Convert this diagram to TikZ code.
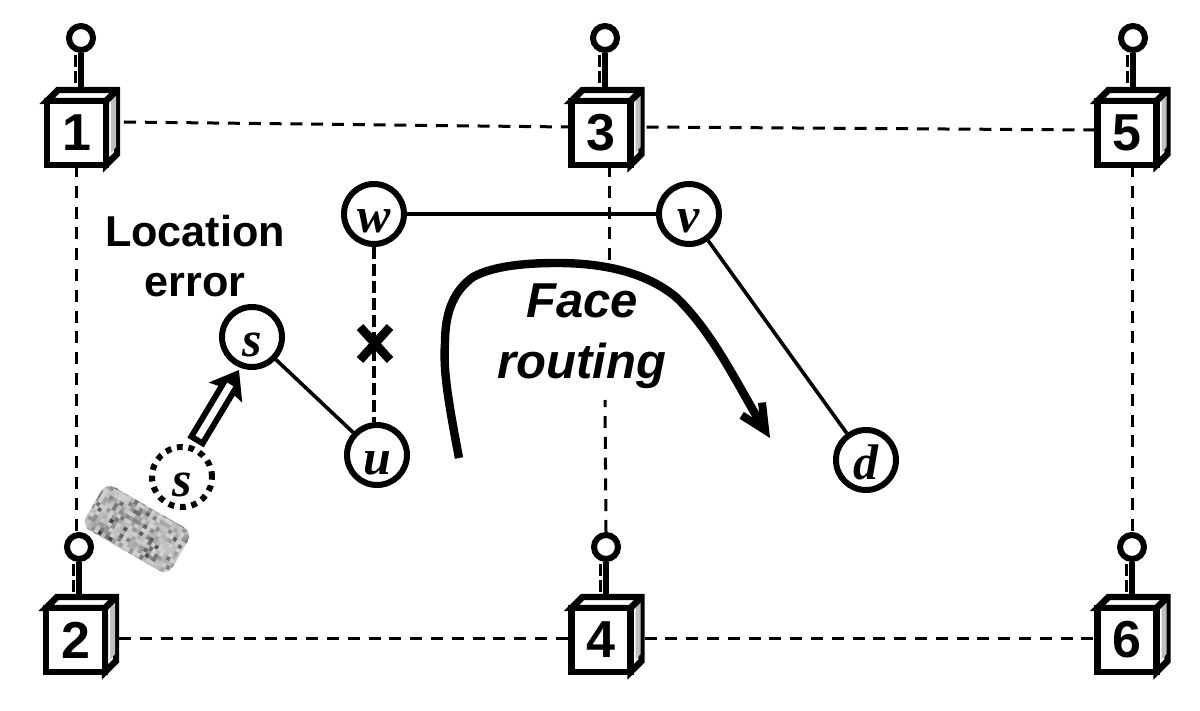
\documentclass[tikz,border=0pt]{standalone}
\usepackage{fontspec}
\setmainfont{Liberation Sans}
\newfontfamily\letterfont{Liberation Serif}
\usetikzlibrary{calc,arrows.meta,backgrounds}
\tikzset{
  x=0.5pt,y=-0.5pt,
  cubebox/.style={draw,fill=white,line width=3.2pt,minimum width=29.5pt,minimum height=32pt,inner sep=0pt,
    font=\fontsize{26}{26}\selectfont\bfseries,outer sep=0pt},
  cubeedge/.style={line width=3.2pt,line join=miter},
  ball/.style={circle,draw,fill=white,line width=3pt,minimum size=12pt,inner sep=0pt,outer sep=1.5pt},
  stem/.style={line width=3.2pt},
  grid/.style={line width=1.5pt,dash pattern=on 6pt off 4.4pt},
  host/.style={circle,draw,fill=white,line width=3pt,minimum size=30pt,inner sep=0pt,outer sep=1.5pt,
    font=\letterfont\fontsize{25}{25}\selectfont\bfseries\itshape},
  link/.style={line width=1.8pt},
  broken/.style={line width=2.4pt,dash pattern=on 6pt off 2.5pt},
  caption/.style={align=center,inner sep=0pt,font=\fontsize{21.6}{25}\selectfont\bfseries},
  route/.style={align=center,inner sep=1pt,font=\fontsize{24.5}{30.5}\selectfont\bfseries\itshape},
}
% Sets a host letter on a fixed baseline below the circle's centre
\newcommand{\hostletter}[1]{\raisebox{-9.5pt}[0pt][0pt]{#1}}
\begin{document}
\begin{tikzpicture}
\useasboundingbox (0,0) rectangle (1200,711);

% Grid sensors: a cube with an antenna on top
\foreach \n/\cx/\cy/\ax/\ay in {1/76.5/133/81/38,3/601/133/605/38,5/1127/133/1133/38,
                                2/75.5/640/79/547,4/601/640/606/547,6/1127/640/1132/547}{
  \node[cubebox] (n\n) at (\cx,\cy) {\n};
  \node[ball] (a\n) at (\ax,\ay) {};
  \begin{scope}[on background layer]
    \draw[fill=white,cubeedge] (n\n.north west) -- ++(11,-11) -- ++(59,0) -- ++(0,64) -- (n\n.south east) -- (n\n.north east) -- cycle;
    \fill[black!25] ($(n\n.north east)+(5,-1)$) -- ++(5,-5) -- ++(0,52) -- ++(-5,6) -- cycle;
    \draw[cubeedge] (n\n.north east) -- ++(11,-11);
    \draw[stem] (a\n.south) -- (a\n.south |- 0,{\cy-44});
    \draw[line width=1.5pt,dash pattern=on 6pt off 2pt] ($(a\n.south)+(-6,2)$) -- ++(0,30);
  \end{scope}
}

% Dashed grid links
\coordinate (faceTop) at (609,270);
\coordinate (faceBottom) at (605,400);
\draw[grid] ($(n1.east |- 0,122)+(18,0)$) -- ($(n3.west |- 0,127)+(-3,0)$);
\draw[grid] ($(n3.east |- 0,127)+(16,0)$) -- ($(n5.west |- 0,130)+(-3,0)$);
\draw[grid] ($(n2.east)+(14,-2)$) -- ($(n4.west)+(-3,-2)$);
\draw[grid] ($(n4.east)+(14,-2)$) -- ($(n6.west)+(-3,-2)$);
\draw[grid] (n1.south) -- (n1.south |- a2.north);
\draw[grid] (n3.south -| faceTop) -- (faceTop);
\draw[grid] (a4.north) -- (faceBottom);
\draw[grid] (n5.south -| a6.north) -- (a6.north);

% Location noise patch
\begin{scope}[shift={(137,529)},rotate=-30]
  \clip[rounded corners=5pt] (-50,-25) rectangle (50,25);
  \pgfmathsetseed{42}
  \foreach \i in {-13,...,12}{
    \foreach \j in {-7,...,6}{
      \pgfmathsetmacro{\shade}{18+rnd*rnd*58}
      \fill[black!\shade] (\i*4,\j*4) rectangle ++(4.3,4.3);
    }
  }
\end{scope}

% Routing graph
\node[host] (w) at (374,214) {\hostletter{w}};
\node[host] (v) at (689,214) {\hostletter{v}};
\node[host] (s) at (252,337) {\hostletter{s}};
\node[host] (u) at (377,455) {\hostletter{u}};
\node[host] (d) at (866,460) {\hostletter{d}};
\node[host,dash pattern=on 2.9pt off 2.9pt] (t) at (182,477) {\hostletter{s}};

\draw[link] (w) -- (v);
\draw[link] (v) -- (d);
\draw[link] (s) -- (u);
\draw[broken] (w) -- (u.north -| w);

\draw[line width=4.4pt] (360,327) -- (390,360) (390,327) -- (360,360);

% Shift of the reported position: a hollow block arrow
\coordinate (shiftFrom) at (195.5,442.5);
\coordinate (shiftTo) at (239,370);
\draw[line width=9.5pt,-{Stealth[length=13pt,width=19pt,inset=2pt]}] (shiftFrom) -- (shiftTo);
\draw[line width=3.5pt,white] ($(shiftFrom)!0.07!(shiftTo)$) -- ($(shiftFrom)!0.8!(shiftTo)$);

% Labels and the face-routing path
\node[caption] (loc) at (195,256) {Location\\error};
\node[route] (fr) at (582,336) {Face\\routing};
\draw[line width=4.2pt,-{Straight Barb[length=12.5pt,width=12pt,line width=4pt]}]
  (459,458) .. controls (448,400) and (443,370) .. (445,343)
  .. controls (445,310) and (455,290) .. (473,277)
  .. controls (495,265) and (530,263) .. (557,263)
  .. controls (610,263) and (650,275) .. (677,298)
  .. controls (715,335) and (740,390) .. (770,438);
\end{tikzpicture}
\end{document}
